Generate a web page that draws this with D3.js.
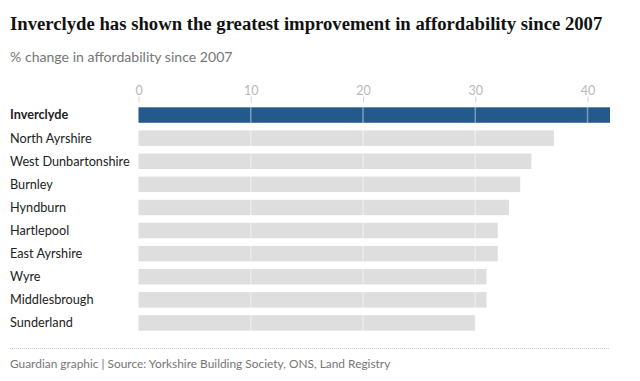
<!DOCTYPE html>
<html>
<head>
<meta charset="utf-8">
<script src="https://cdn.jsdelivr.net/npm/d3@7"></script>
<style>
  body { margin: 0; background: #fff; }
  svg { display: block; }
</style>
</head>
<body>
<script>
const places = [
  "Inverclyde", "North Ayrshire", "West Dunbartonshire", "Burnley", "Hyndburn",
  "Hartlepool", "East Ayrshire", "Wyre", "Middlesbrough", "Sunderland"
];
const change = [42, 37, 35, 34, 33, 32, 32, 31, 31, 30];
const ticks = [0, 10, 20, 30, 40];
const highlight = "Inverclyde";

const width = 640, height = 381;
const sans = "Lato, 'Open Sans', sans-serif";

const x = d3.scaleLinear().domain([0, 42]).range([138.5, 610]);
const y = d3.scaleBand().domain(places).range([103.5, 334.5])
  .paddingInner(0.33).paddingOuter(0.165);

const svg = d3.select("body").append("svg")
  .attr("width", width).attr("height", height);

// title and subtitle
svg.append("text")
  .attr("x", 10).attr("y", 30)
  .attr("font-family", "'Liberation Serif', serif")
  .attr("font-weight", "bold")
  .attr("font-size", 18.7)
  .attr("fill", "#121212")
  .text("Inverclyde has shown the greatest improvement in affordability since 2007");

svg.append("text")
  .attr("x", 10).attr("y", 62)
  .attr("font-family", sans)
  .attr("font-size", 14.1)
  .attr("fill", "#767676")
  .text("% change in affordability since 2007");

// bars
svg.append("g")
  .selectAll("rect")
  .data(places)
  .join("rect")
  .attr("x", x(0))
  .attr("y", d => y(d))
  .attr("width", (d, i) => x(change[i]) - x(0))
  .attr("height", y.bandwidth())
  .attr("fill", d => d === highlight ? "#245a8b" : "#dedede");

// axis with gridlines over the bars
const axis = svg.append("g")
  .attr("transform", `translate(0,${y.range()[0] - 1})`)
  .call(d3.axisTop(x).tickValues(ticks).tickSize(6).tickSizeOuter(0)
    .tickPadding(2));
axis.select(".domain").remove();
axis.selectAll(".tick line").attr("stroke", "#d6d6d6");
axis.selectAll(".tick text")
  .attr("font-family", sans)
  .attr("font-size", 12.5)
  .attr("fill", "#b8b8b8");

svg.append("g")
  .selectAll("line")
  .data(ticks.slice(1))
  .join("line")
  .attr("x1", d => x(d)).attr("x2", d => x(d))
  .attr("y1", y.range()[0] - 1)
  .attr("y2", y(places[places.length - 1]) + y.bandwidth())
  .attr("stroke", "#ffffff")
  .attr("stroke-opacity", 0.4)
  .attr("stroke-width", 1.5);

// category labels
svg.append("g")
  .selectAll("text")
  .data(places)
  .join("text")
  .attr("x", 10)
  .attr("y", d => y(d) + y.bandwidth() / 2)
  .attr("dy", "0.35em")
  .attr("font-family", sans)
  .attr("font-size", 12.7)
  .attr("font-weight", d => d === highlight ? "bold" : "normal")
  .attr("fill", "#222222")
  .text(d => d);

// footer
svg.append("line")
  .attr("x1", 10).attr("x2", 610)
  .attr("y1", 348.5).attr("y2", 348.5)
  .attr("stroke", "#cccccc")
  .attr("stroke-dasharray", "1,1");

svg.append("text")
  .attr("x", 10).attr("y", 368)
  .attr("font-family", sans)
  .attr("font-size", 11.9)
  .attr("fill", "#767676")
  .text("Guardian graphic | Source: Yorkshire Building Society, ONS, Land Registry");
</script>
</body>
</html>
